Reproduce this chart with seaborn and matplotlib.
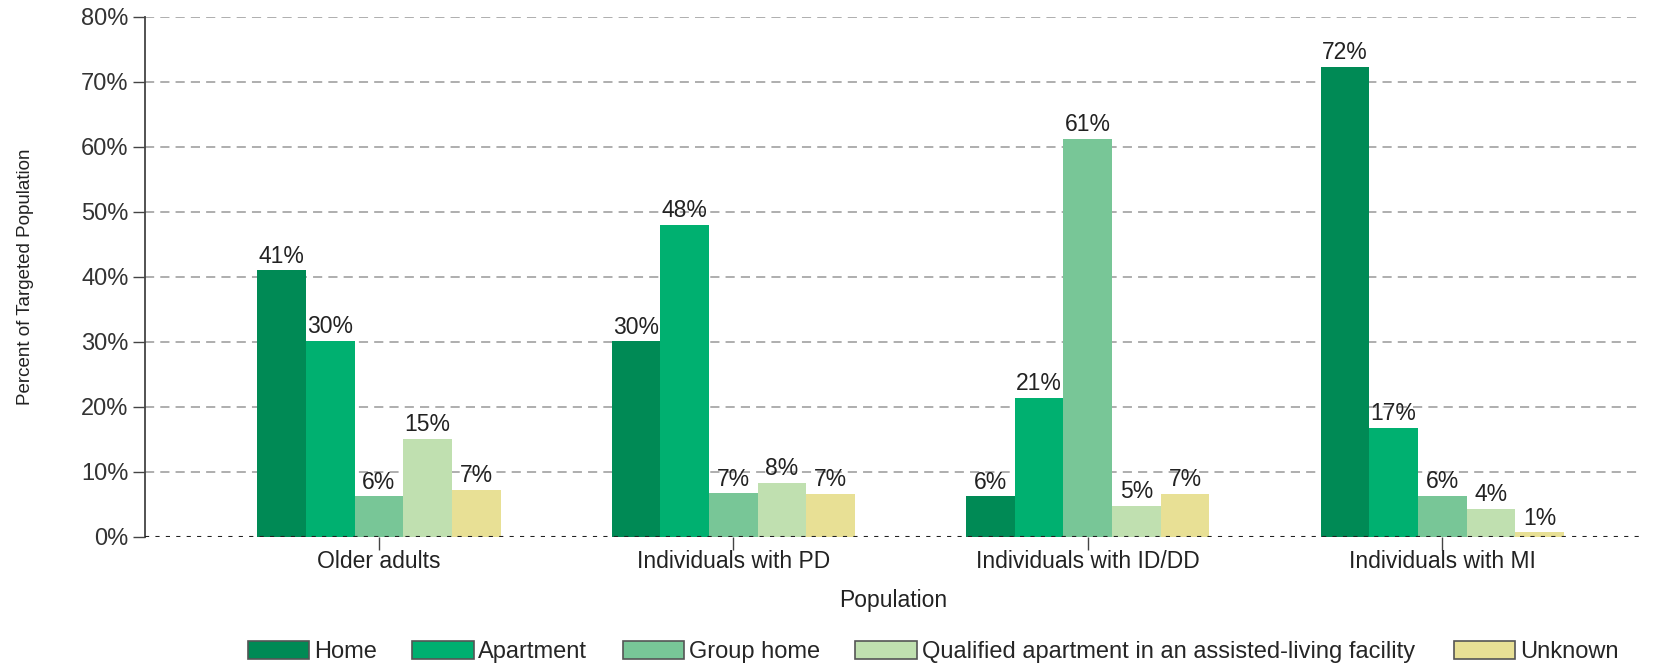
import seaborn as sns
import pandas as pd
import matplotlib.pyplot as plt
from matplotlib.patches import Patch

populations = ["Older adults", "Individuals with PD", "Individuals with ID/DD", "Individuals with MI"]
types = ["Home", "Apartment", "Group home",
         "Qualified apartment in an assisted-living facility", "Unknown"]

# percent of targeted population, one list per housing type (order = populations)
home = [41.0, 30.1, 6.25, 72.3]
apartment = [30.2, 48.0, 21.4, 16.8]
group_home = [6.25, 6.7, 61.2, 6.35]
qualified = [15.1, 8.3, 4.8, 4.3]
unknown = [7.2, 6.6, 6.6, 0.7]

colors = ["#008a55", "#00b070", "#78c697", "#c0e0b0", "#e8e095"]

rows = []
for t, vals in zip(types, [home, apartment, group_home, qualified, unknown]):
    for p, v in zip(populations, vals):
        rows.append({"Population": p, "Type": t, "Percent": v})
df = pd.DataFrame(rows)

sns.set_style("white")
plt.rcParams['font.family'] = ['Liberation Sans', 'DejaVu Sans']

fig = plt.figure(figsize=(16.75, 6.64), dpi=100)
ax = fig.add_axes([0.0866, 0.1913, 0.9084 - 0.0155, 0.7831])

sns.barplot(data=df, x="Population", y="Percent", hue="Type", order=populations,
            hue_order=types, palette=colors, width=0.686, gap=0, saturation=1,
            errorbar=None, linewidth=0, ax=ax)
ax.get_legend().remove()

for c in ax.containers:
    ax.bar_label(c, fmt="{:.0f}%", padding=2, fontsize=16.5, color="#222222")

ax.set_ylim(0, 80)
ax.set_xlim(-0.66, 3.56)
ax.set_yticks(range(0, 81, 10))
ax.set_yticklabels([f"{v}%" for v in range(0, 81, 10)], fontsize=17, color="#333333")
ax.tick_params(axis="x", labelsize=16.5, labelcolor="#222222", length=9, width=1,
               color="#444444", direction="out", bottom=True, pad=0.5)
ax.tick_params(axis="y", length=9, width=1, color="#444444", direction="out", left=True, pad=3)

for y in range(10, 81, 10):
    ax.axhline(y, color="#999999", linestyle=(0, (6, 4)), linewidth=1.1, zorder=0)
ax.axhline(0, color="#222222", linestyle=(0, (2, 3)), linewidth=1.5, zorder=5)

for s in ["top", "right", "bottom"]:
    ax.spines[s].set_visible(False)
ax.spines["left"].set_color("#444444")
ax.spines["left"].set_linewidth(1.3)

ax.set_xlabel("Population", fontsize=16.5, color="#222222", labelpad=11.5)
ax.set_ylabel("Percent of Targeted Population", fontsize=13.5, color="#222222", labelpad=34)

handles = [Patch(facecolor=c, edgecolor="#555555", linewidth=1.2) for c in colors]
leg_kw = dict(frameon=False, fontsize=17, handlelength=2.6, handleheight=0.8,
              handletextpad=0.2, columnspacing=1.5, borderpad=0, borderaxespad=0)
fig.legend(handles[:4], types[:4], loc="center left", bbox_to_anchor=(0.148, 0.018),
           ncol=4, **leg_kw)
fig.legend(handles[4:], types[4:], loc="center left", bbox_to_anchor=(0.868, 0.018),
           ncol=1, **leg_kw)

plt.savefig("out.png", dpi=100)
